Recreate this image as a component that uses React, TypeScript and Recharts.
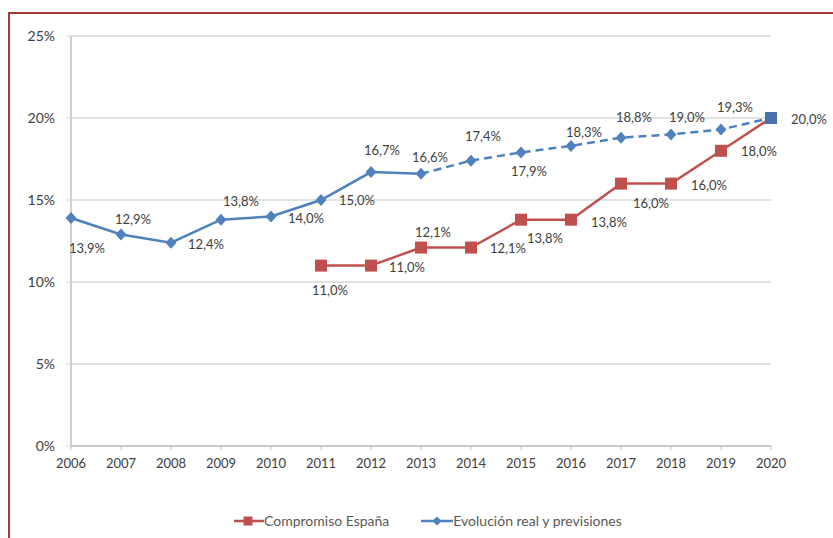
import React from 'react';
import {
  LineChart,
  Line,
  XAxis,
  YAxis,
  CartesianGrid,
} from 'recharts';

const YEARS = ['2006', '2007', '2008', '2009', '2010', '2011', '2012', '2013', '2014', '2015', '2016', '2017', '2018', '2019', '2020'];
// null = no value for that year
const COMPROMISO = [null, null, null, null, null, 11.0, 11.0, 12.1, 12.1, 13.8, 13.8, 16.0, 16.0, 18.0, 20.0];
const EVOLUCION = [13.9, 12.9, 12.4, 13.8, 14.0, 15.0, 16.7, 16.6, 17.4, 17.9, 18.3, 18.8, 19.0, 19.3, 20.0];
const LAST_REAL = 7; // 2013: after this the blue line is a forecast (dashed)
const Y_TICKS = [0, 5, 10, 15, 20, 25];

// label centre offsets from the point, [dx, dy]; null hides the label
const RED_LABEL_OFFSETS: ([number, number] | null)[] = [
  null, null, null, null, null,
  [9, 24], [36, 1], [12, -16], [37, 0], [24, 18], [38, 2], [30, 19], [38, 1], [38, 0], null,
];
const BLUE_LABEL_OFFSETS: ([number, number] | null)[] = [
  [16, 30], [12, -15], [35, 1], [20, -19], [35, 2], [36, 0], [11, -22], [9, -17],
  [12, -25], [8, 19], [13, -14], [13, -21], [16, -17], [14, -22], [38, 1],
];

const RED = '#c0504d';
const BLUE = '#4f81bd';
const TEXT = '#404040';
const FONT = 'Lato, "Open Sans", sans-serif';

const chartData = YEARS.map((year, i) => ({
  year,
  compromiso: COMPROMISO[i],
  real: i <= LAST_REAL ? EVOLUCION[i] : null,
  prev: i >= LAST_REAL ? EVOLUCION[i] : null,
}));

const fmt = (v: number) => v.toFixed(1).replace('.', ',') + '%';

const SquareDot = (color: string) => (props: any) => {
  const { cx, cy, index, value } = props;
  if (value == null || cx == null) return <g key={`s-${index}`} />;
  return <rect key={`s-${index}`} x={cx - 6} y={cy - 6} width={12} height={12} fill={color} />;
};

const DiamondDot = (from: number, to: number) => (props: any) => {
  const { cx, cy, index, value } = props;
  if (value == null || cx == null || index < from || index > to) return <g key={`d-${index}`} />;
  if (index === YEARS.length - 1) {
    return <rect key={`d-${index}`} x={cx - 6} y={cy - 6} width={12} height={12} fill="#4a6fae" />;
  }
  return (
    <path
      key={`d-${index}`}
      d={`M${cx},${cy - 6}L${cx + 5.5},${cy}L${cx},${cy + 6}L${cx - 5.5},${cy}Z`}
      fill={BLUE}
    />
  );
};

const makeLabel = (offsets: ([number, number] | null)[], from: number, to: number) => (props: any) => {
  const { x, y, value, index } = props;
  const off = offsets[index];
  if (value == null || x == null || !off || index < from || index > to) return null;
  return (
    <text
      key={`l-${index}`}
      x={x + off[0]}
      y={y + off[1]}
      textAnchor="middle"
      dominantBaseline="central"
      fontSize={13}
      fontFamily={FONT}
      fill={TEXT}
    >
      {fmt(value)}
    </text>
  );
};

const LegendBox = () => (
  <div
    style={{
      position: 'absolute',
      left: 234,
      top: 512,
      display: 'flex',
      alignItems: 'center',
      fontFamily: FONT,
      fontSize: 14,
      color: '#595959',
    }}
  >
    <svg width={30} height={14}>
      <line x1={0} y1={7} x2={30} y2={7} stroke={RED} strokeWidth={2.5} />
      <rect x={9.5} y={2.5} width={9} height={9} fill={RED} />
    </svg>
    <span style={{ marginRight: 32 }}>Compromiso España</span>
    <svg width={32} height={14}>
      <line x1={0} y1={7} x2={32} y2={7} stroke={BLUE} strokeWidth={2.5} />
      <path d="M16,2.5L20.5,7L16,11.5L11.5,7Z" fill={BLUE} />
    </svg>
    <span>Evolución real y previsiones</span>
  </div>
);

export default function App() {
  return (
    <div
      style={{
        position: 'absolute',
        left: 0,
        top: 0,
        width: 833,
        height: 538,
        background: '#fff',
        overflow: 'hidden',
      }}
    >
      {/* frame of the original slide */}
      <div style={{ position: 'absolute', left: 8, top: 12, width: 825, height: 1.5, background: '#a33b35' }} />
      <div style={{ position: 'absolute', left: 8, top: 12, width: 1.5, height: 526, background: '#a33b35' }} />

      <div style={{ position: 'absolute', left: 0, top: 0 }}>
        <LineChart width={833} height={538} data={chartData} margin={{ top: 36, right: 62, bottom: 62, left: 11 }}>
          <CartesianGrid vertical={false} stroke="#d9d9d9" strokeWidth={1.5} />
          <XAxis
            dataKey="year"
            interval={0}
            height={30}
            axisLine={{ stroke: '#bfbfbf', strokeWidth: 1.5 }}
            tickLine={{ stroke: '#bfbfbf' }}
            tickSize={4}
            tickMargin={9}
            tick={{ fontSize: 13, fontFamily: FONT, fill: TEXT }}
          />
          <YAxis
            width={60}
            domain={[0, 25]}
            ticks={Y_TICKS}
            tickFormatter={(v: number) => `${v}%`}
            axisLine={{ stroke: '#bfbfbf', strokeWidth: 1.5 }}
            tickLine={{ stroke: '#d9d9d9' }}
            tickSize={5}
            tickMargin={11}
            tick={{ fontSize: 14, fontFamily: FONT, fill: TEXT }}
          />
          <Line
            dataKey="compromiso"
            stroke={RED}
            strokeWidth={2.5}
            dot={SquareDot(RED)}
            activeDot={false}
            label={makeLabel(RED_LABEL_OFFSETS, 0, YEARS.length - 1)}
            isAnimationActive={false}
          />
          <Line
            dataKey="real"
            stroke={BLUE}
            strokeWidth={2.5}
            dot={DiamondDot(0, LAST_REAL)}
            activeDot={false}
            label={makeLabel(BLUE_LABEL_OFFSETS, 0, LAST_REAL)}
            isAnimationActive={false}
          />
          <Line
            dataKey="prev"
            stroke={BLUE}
            strokeWidth={2.5}
            strokeDasharray="8 5"
            dot={DiamondDot(LAST_REAL + 1, YEARS.length - 1)}
            activeDot={false}
            label={makeLabel(BLUE_LABEL_OFFSETS, LAST_REAL + 1, YEARS.length - 1)}
            isAnimationActive={false}
          />
        </LineChart>
      </div>
      <LegendBox />
    </div>
  );
}
